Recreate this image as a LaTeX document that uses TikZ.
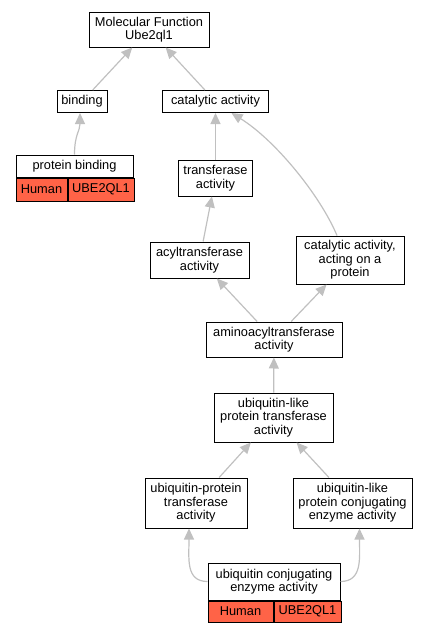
\documentclass[tikz,border=0pt]{standalone}
\usepackage{fontspec}
\setmainfont{Liberation Sans}
\usetikzlibrary{arrows.meta}
\definecolor{cellred}{RGB}{255,99,71}
\definecolor{edgegray}{RGB}{192,192,192}
\begin{document}
\begin{tikzpicture}[
  x=1pt, y=1pt,
  box/.style={draw, line width=1pt, fill=white, align=center, inner sep=0pt, font=\fontsize{12.8}{13.5}\selectfont},
  cell/.style={box, fill=cellred, anchor=north west},
  arrow/.style={-{Triangle[length=11pt, width=10pt]}, draw=edgegray, line width=1.2pt}
]
\useasboundingbox (0,0) rectangle (427,-632);
\node[box, minimum width=120, minimum height=35] (mf) at (149,-29.5) {Molecular Function\\Ube2ql1};
\node[box, minimum width=50, minimum height=22] (bind) at (82,-101.5) {binding};
\node[box, minimum width=106, minimum height=22] (cat) at (215.5,-101.5) {catalytic activity};
\node[box, minimum width=117, minimum height=22] (pb) at (74.5,-166) {protein binding};
\node[cell, minimum width=51, minimum height=23] (pbhum) at (pb.south west) {Human};
\node[cell, minimum width=66, minimum height=23] (pbgene) at (pbhum.north east) {UBE2QL1};
\node[box, minimum width=74, minimum height=36] (trans) at (215.5,-178) {transferase\\activity};
\node[box, minimum width=99, minimum height=36] (acyl) at (199.5,-260) {acyltransferase\\activity};
\node[box, minimum width=108, minimum height=48] (catprot) at (350,-260) {catalytic activity,\\acting on a\\protein};
\node[box, minimum width=136, minimum height=35] (amino) at (274,-339.5) {aminoacyltransferase\\activity};
\node[box, minimum width=119, minimum height=49] (ulpt) at (273.5,-417.5) {ubiquitin-like\\protein transferase\\activity};
\node[box, minimum width=102, minimum height=50] (upt) at (196,-503) {ubiquitin-protein\\transferase\\activity};
\node[box, minimum width=119, minimum height=50] (ulpce) at (352.5,-503) {ubiquitin-like\\protein conjugating\\enzyme activity};
\node[box, minimum width=132, minimum height=37] (uce) at (274,-581.5) {ubiquitin conjugating\\enzyme activity};
\node[cell, minimum width=65, minimum height=21] (ucehum) at (uce.south west) {Human};
\node[cell, minimum width=67, minimum height=21] (ucegene) at (ucehum.north east) {UBE2QL1};
\draw[arrow] (bind) -- (mf);
\draw[arrow] (cat) -- (mf);
\draw[arrow] (pb.north) .. controls +(0,20) and +(0,-18) .. ([xshift=-2pt]bind.south);
\draw[arrow] (trans) -- (cat);
\draw[arrow] (acyl) -- (trans);
\draw[arrow] ([xshift=-13pt]catprot.north) .. controls (320,-195) and (275,-140) .. ([xshift=16pt]cat.south);
\draw[arrow] (amino) -- (acyl);
\draw[arrow] (amino) -- (catprot);
\draw[arrow] (ulpt) -- (amino);
\draw[arrow] (upt) -- (ulpt);
\draw[arrow] (ulpce) -- (ulpt);
\draw[arrow] (uce.west) .. controls +(-22,0) and +(0,-30) .. ([xshift=-7pt]upt.south);
\draw[arrow] (uce.east) .. controls +(22,0) and +(0,-30) .. ([xshift=7pt]ulpce.south);
\end{tikzpicture}
\end{document}
